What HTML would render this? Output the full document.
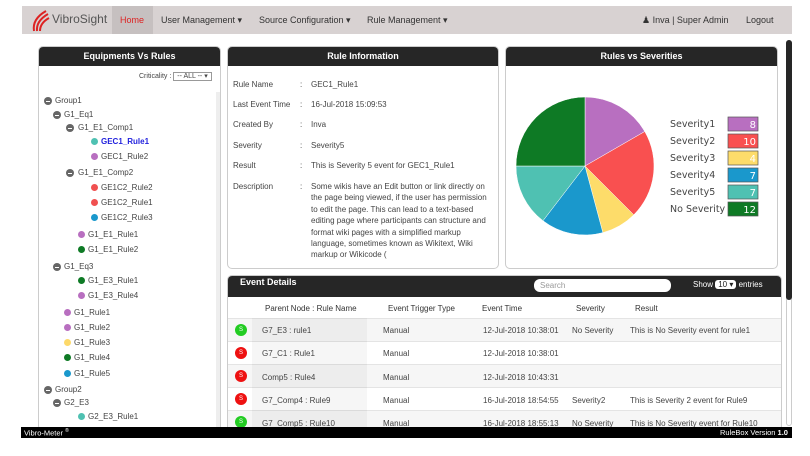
<!DOCTYPE html>
<html><head><meta charset="utf-8"><style>
*{margin:0;padding:0;box-sizing:border-box}
body{width:810px;height:456px;background:#fff;font-family:"Liberation Sans",sans-serif;color:#444;position:relative;overflow:hidden;font-size:8px}
.a{position:absolute;white-space:nowrap}
.nav{left:22px;top:6px;width:770px;height:28px;background:#d8d2d2}
.panel{position:absolute;border:1px solid #ccc;border-radius:5px;background:#fff;overflow:hidden}
.hd{background:#262626;color:#fff;font-weight:bold;text-align:center;height:19px;line-height:19px;font-size:9px}
.dot{position:absolute;width:7px;height:7px;border-radius:50%}
.minus{position:absolute;width:8px;height:8px;border-radius:50%;background:#666}
.minus:after{content:"";position:absolute;left:2px;top:3.5px;width:4px;height:1px;background:#fff}
.row{position:absolute;left:0;width:553px;height:23px;border-top:1px solid #e4e4e4}
.ic{position:absolute;left:7px;width:12px;height:12px;border-radius:50%;color:#fff;font-size:6px;text-align:center;line-height:12px}
</style></head><body>
<div class="a nav"></div>
<svg class="a" style="left:30px;top:9px" width="20" height="24"><path d="M4 22 Q2 10 16 2 M7 22 Q6 12 18 5 M10 22 Q10 14 19 9" stroke="#d22" stroke-width="2" fill="none"/></svg>
<div class="a" style="left:52px;top:12px;font-size:12px;color:#555">VibroSight</div>
<div class="a" style="left:112px;top:6px;width:41px;height:28px;background:#c6c0c0"></div>
<div class="a" style="left:120px;top:15px;color:#d22;font-size:9px">Home</div>
<div class="a" style="left:161px;top:15px;font-size:9px;color:#333">User Management ▾</div>
<div class="a" style="left:259px;top:15px;font-size:9px;color:#333">Source Configuration ▾</div>
<div class="a" style="left:367px;top:15px;font-size:9px;color:#333">Rule Management ▾</div>
<div class="a" style="left:642px;top:15px;font-size:9px;color:#333">&#9823; Inva | Super Admin</div>
<div class="a" style="left:746px;top:15px;font-size:9px;color:#333">Logout</div>

<div class="panel" style="left:38px;top:46px;width:183px;height:385px">
<div class="hd">Equipments Vs Rules</div>
<div class="a" style="left:100px;top:25px;font-size:7px">Criticality : <span style="border:1px solid #999;padding:0 3px">-- ALL -- ▾</span></div>
<div class="a" style="left:177px;top:45px;width:5px;height:340px;background:#eee"></div>
</div>
<div class="a" style="left:0;top:0">
<div class="minus" style="left:44px;top:97px"></div><div class="a" style="left:55px;top:96px">Group1</div>
<div class="minus" style="left:53px;top:111px"></div><div class="a" style="left:64px;top:110px">G1_Eq1</div>
<div class="minus" style="left:66px;top:124px"></div><div class="a" style="left:78px;top:123px">G1_E1_Comp1</div>
<div class="dot" style="left:91px;top:138px;background:#4fc1b2"></div><div class="a" style="left:101px;top:137px;color:#22d;font-weight:bold">GEC1_Rule1</div>
<div class="dot" style="left:91px;top:153px;background:#b86fc0"></div><div class="a" style="left:101px;top:152px">GEC1_Rule2</div>
<div class="minus" style="left:66px;top:169px"></div><div class="a" style="left:78px;top:168px">G1_E1_Comp2</div>
<div class="dot" style="left:91px;top:184px;background:#f05050"></div><div class="a" style="left:101px;top:183px">GE1C2_Rule2</div>
<div class="dot" style="left:91px;top:199px;background:#f05050"></div><div class="a" style="left:101px;top:198px">GE1C2_Rule1</div>
<div class="dot" style="left:91px;top:214px;background:#1a98cc"></div><div class="a" style="left:101px;top:213px">GE1C2_Rule3</div>
<div class="dot" style="left:78px;top:231px;background:#b86fc0"></div><div class="a" style="left:88px;top:230px">G1_E1_Rule1</div>
<div class="dot" style="left:78px;top:246px;background:#0e7a25"></div><div class="a" style="left:88px;top:245px">G1_E1_Rule2</div>
<div class="minus" style="left:53px;top:263px"></div><div class="a" style="left:64px;top:262px">G1_Eq3</div>
<div class="dot" style="left:78px;top:277px;background:#0e7a25"></div><div class="a" style="left:88px;top:276px">G1_E3_Rule1</div>
<div class="dot" style="left:78px;top:292px;background:#b86fc0"></div><div class="a" style="left:88px;top:291px">G1_E3_Rule4</div>
<div class="dot" style="left:64px;top:309px;background:#b86fc0"></div><div class="a" style="left:74px;top:308px">G1_Rule1</div>
<div class="dot" style="left:64px;top:324px;background:#b86fc0"></div><div class="a" style="left:74px;top:323px">G1_Rule2</div>
<div class="dot" style="left:64px;top:339px;background:#fdd96a"></div><div class="a" style="left:74px;top:338px">G1_Rule3</div>
<div class="dot" style="left:64px;top:354px;background:#0e7a25"></div><div class="a" style="left:74px;top:353px">G1_Rule4</div>
<div class="dot" style="left:64px;top:370px;background:#1a98cc"></div><div class="a" style="left:74px;top:369px">G1_Rule5</div>
<div class="minus" style="left:44px;top:386px"></div><div class="a" style="left:55px;top:385px">Group2</div>
<div class="minus" style="left:53px;top:399px"></div><div class="a" style="left:64px;top:398px">G2_E3</div>
<div class="dot" style="left:78px;top:413px;background:#4fc1b2"></div><div class="a" style="left:88px;top:412px">G2_E3_Rule1</div>
</div>

<div class="panel" style="left:227px;top:46px;width:272px;height:223px">
<div class="hd">Rule Information</div>
</div>
<div class="a" style="left:233px;top:80px">Rule Name</div><div class="a" style="left:300px;top:80px">:</div><div class="a" style="left:311px;top:80px">GEC1_Rule1</div>
<div class="a" style="left:233px;top:100px">Last Event Time</div><div class="a" style="left:300px;top:100px">:</div><div class="a" style="left:311px;top:100px">16-Jul-2018 15:09:53</div>
<div class="a" style="left:233px;top:120px">Created By</div><div class="a" style="left:300px;top:120px">:</div><div class="a" style="left:311px;top:120px">Inva</div>
<div class="a" style="left:233px;top:141px">Severity</div><div class="a" style="left:300px;top:141px">:</div><div class="a" style="left:311px;top:141px">Severity5</div>
<div class="a" style="left:233px;top:161px">Result</div><div class="a" style="left:300px;top:161px">:</div><div class="a" style="left:311px;top:161px">This is Severity 5 event for GEC1_Rule1</div>
<div class="a" style="left:233px;top:182px">Description</div><div class="a" style="left:300px;top:182px">:</div>
<div class="a" style="left:311px;top:181px;line-height:11.4px;white-space:normal;width:184px">Some wikis have an Edit button or link directly on the page being viewed, if the user has permission to edit the page. This can lead to a text-based editing page where participants can structure and format wiki pages with a simplified markup language, sometimes known as Wikitext, Wiki markup or Wikicode (</div>

<div class="panel" style="left:505px;top:46px;width:273px;height:223px">
<div class="hd">Rules vs Severities</div>
</div>
<svg class="a" style="left:0;top:0" width="810" height="456">
<g stroke="#fff" stroke-width="0.5">
<path d="M585 166 L585 97 A69 69 0 0 1 644.76 131.5Z" fill="#b86fc0"/>
<path d="M585 166 L644.76 131.5 A69 69 0 0 1 633.79 214.79Z" fill="#f95050"/>
<path d="M585 166 L633.79 214.79 A69 69 0 0 1 602.86 232.65Z" fill="#fddc6a"/>
<path d="M585 166 L602.86 232.65 A69 69 0 0 1 542.99 220.74Z" fill="#1a98cc"/>
<path d="M585 166 L542.99 220.74 A69 69 0 0 1 516 166Z" fill="#4fc1b2"/>
<path d="M585 166 L516 166 A69 69 0 0 1 585 97Z" fill="#0e7a25"/>
</g>
<g font-family="DejaVu Sans,sans-serif" font-size="9.5" fill="#444">
<text x="670" y="127">Severity1</text><text x="670" y="144">Severity2</text><text x="670" y="161">Severity3</text>
<text x="670" y="178">Severity4</text><text x="670" y="195">Severity5</text><text x="670" y="212">No Severity</text>
</g>
<g stroke="#555" stroke-width="0.7">
<rect x="728" y="117" width="30" height="14" fill="#b86fc0"/><rect x="728" y="134" width="30" height="14" fill="#f95050"/>
<rect x="728" y="151" width="30" height="14" fill="#fddc6a"/><rect x="728" y="168" width="30" height="14" fill="#1a98cc"/>
<rect x="728" y="185" width="30" height="14" fill="#4fc1b2"/><rect x="728" y="202" width="30" height="14" fill="#0e7a25"/>
</g>
<g font-family="DejaVu Sans,sans-serif" font-size="10" fill="#fff" text-anchor="end">
<text x="756" y="128">8</text><text x="756" y="145">10</text><text x="756" y="162">4</text><text x="756" y="179">7</text><text x="756" y="196">7</text><text x="756" y="213">12</text>
</g>
</svg>

<div class="panel" style="left:227px;top:275px;width:555px;height:160px">
<div style="background:#262626;height:21px"></div>
<div class="a" style="left:12px;top:1px;color:#fff;font-weight:bold;font-size:9px">Event Details</div>
<div class="a" style="left:306px;top:3px;width:137px;height:13px;background:#fff;border-radius:6px;color:#999;padding:2px 6px">Search</div>
<div class="a" style="left:465px;top:4px;color:#fff">Show <span style="background:#fff;color:#222;border-radius:3px;padding:0 3px">10 ▾</span> entries</div>
<div class="a" style="left:37px;top:28px;color:#333">Parent Node : Rule Name</div>
<div class="a" style="left:160px;top:28px;color:#333">Event Trigger Type</div>
<div class="a" style="left:254px;top:28px;color:#333">Event Time</div>
<div class="a" style="left:348px;top:28px;color:#333">Severity</div>
<div class="a" style="left:407px;top:28px;color:#333">Result</div>
<div class="row" style="top:42px;background:#f6f6f6"></div>
<div class="row" style="top:65px;background:#fff"></div>
<div class="row" style="top:88px;background:#f6f6f6"></div>
<div class="row" style="top:111px;background:#fff"></div>
<div class="row" style="top:134px;background:#f6f6f6"></div>
<div class="a" style="left:24px;top:42px;width:115px;height:115px;background:rgba(0,0,0,0.035)"></div>
<div class="ic" style="top:48px;background:#2c2">S</div><div class="ic" style="top:71px;background:#e11">S</div><div class="ic" style="top:94px;background:#e11">S</div><div class="ic" style="top:117px;background:#e11">S</div><div class="ic" style="top:140px;background:#2c2">S</div>
<div class="a" style="left:34px;top:50px">G7_E3 : rule1</div><div class="a" style="left:155px;top:50px">Manual</div><div class="a" style="left:255px;top:50px">12-Jul-2018 10:38:01</div><div class="a" style="left:344px;top:50px">No Severity</div><div class="a" style="left:402px;top:50px">This is No Severity event for rule1</div>
<div class="a" style="left:34px;top:73px">G7_C1 : Rule1</div><div class="a" style="left:155px;top:73px">Manual</div><div class="a" style="left:255px;top:73px">12-Jul-2018 10:38:01</div>
<div class="a" style="left:34px;top:97px">Comp5 : Rule4</div><div class="a" style="left:155px;top:97px">Manual</div><div class="a" style="left:255px;top:97px">12-Jul-2018 10:43:31</div>
<div class="a" style="left:34px;top:120px">G7_Comp4 : Rule9</div><div class="a" style="left:155px;top:120px">Manual</div><div class="a" style="left:255px;top:120px">16-Jul-2018 18:54:55</div><div class="a" style="left:344px;top:120px">Severity2</div><div class="a" style="left:402px;top:120px">This is Severity 2 event for Rule9</div>
<div class="a" style="left:34px;top:143px">G7_Comp5 : Rule10</div><div class="a" style="left:155px;top:143px">Manual</div><div class="a" style="left:255px;top:143px">16-Jul-2018 18:55:13</div><div class="a" style="left:344px;top:143px">No Severity</div><div class="a" style="left:402px;top:143px">This is No Severity event for Rule10</div>
</div>

<div class="a" style="left:786px;top:40px;width:6px;height:386px;border:1px solid #ccc;border-radius:3px"></div>
<div class="a" style="left:786px;top:40px;width:6px;height:260px;background:#262626;border-radius:3px"></div>
<div class="a" style="left:21px;top:427px;width:771px;height:11px;background:#000"></div>
<div class="a" style="left:24px;top:428px;color:#fff;font-size:7.5px">Vibro-Meter <sup style="font-size:5px">®</sup></div>
<div class="a" style="left:720px;top:428px;color:#fff;font-size:7.5px">RuleBox Version <b>1.0</b></div>
</body></html>
